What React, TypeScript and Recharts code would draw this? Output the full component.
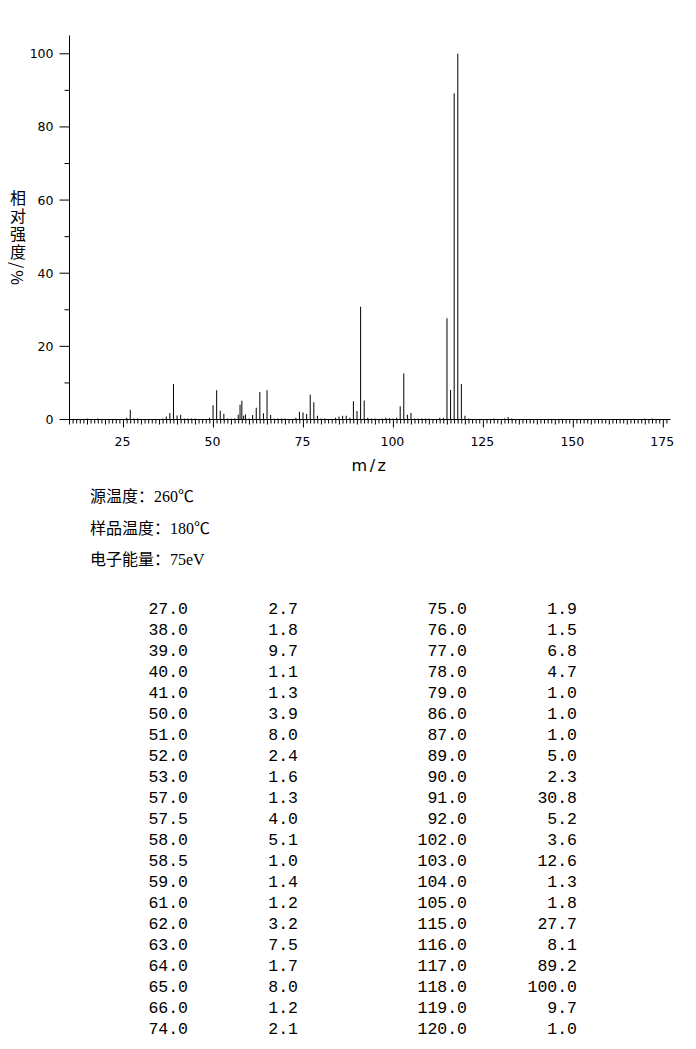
import { BarChart, Bar, XAxis, YAxis } from 'recharts';

// peaks listed in the table (m/z, relative intensity %)
const listedMz = [
  27, 38, 39, 40, 41, 50, 51, 52, 53, 57, 57.5, 58, 58.5, 59, 61, 62, 63, 64, 65, 66, 74,
  75, 76, 77, 78, 79, 86, 87, 89, 90, 91, 92, 102, 103, 104, 105, 115, 116, 117, 118, 119, 120,
];
const listedIntensity = [
  2.7, 1.8, 9.7, 1.1, 1.3, 3.9, 8.0, 2.4, 1.6, 1.3, 4.0, 5.1, 1.0, 1.4, 1.2, 3.2, 7.5, 1.7, 8.0, 1.2, 2.1,
  1.9, 1.5, 6.8, 4.7, 1.0, 1.0, 1.0, 5.0, 2.3, 30.8, 5.2, 3.6, 12.6, 1.3, 1.8, 27.7, 8.1, 89.2, 100.0, 9.7, 1.0,
];

// small peaks only visible in the spectrum
const traceMz = [
  15, 18, 26, 28, 29, 36, 37, 42, 43, 44, 45, 49, 54, 55, 56, 60, 67, 68, 69, 70, 73, 80, 81, 84,
  85, 88, 93, 94, 95, 97, 98, 99, 100, 101, 106, 107, 108, 109, 110, 113, 114, 121, 128, 131, 132,
  133, 170, 172,
];
const traceIntensity = [
  0.3, 0.3, 0.5, 0.3, 0.3, 0.3, 0.8, 0.3, 0.3, 0.3, 0.3, 0.5, 0.3, 0.3, 0.3, 0.3, 0.3, 0.3, 0.3, 0.3,
  0.5, 0.3, 0.3, 0.5, 0.8, 0.5, 0.5, 0.3, 0.3, 0.3, 0.5, 0.4, 0.3, 0.5, 0.3, 0.3, 0.3, 0.3, 0.3, 0.5,
  0.5, 0.3, 0.3, 0.3, 0.7, 0.3, 0.3, 0.3,
];

const mzTicks = Array.from({ length: 167 }, (_, i) => 10 + i);
const intensityTicks = [0, 10, 20, 30, 40, 50, 60, 70, 80, 90, 100];

const yLabel = '相对强度/%';
const conditions = ['源温度：260℃', '样品温度：180℃', '电子能量：75eV'];

const peaks = [
  ...listedMz.map((mz, i) => ({ mz, intensity: listedIntensity[i] })),
  ...traceMz.map((mz, i) => ({ mz, intensity: traceIntensity[i] })),
].sort((a, b) => a.mz - b.mz);

const tickFont = '"DejaVu Sans", sans-serif';

function MzTick({ x, y, payload }: any) {
  const v = payload.value;
  const len = v % 25 === 0 ? 8 : v % 5 === 0 ? 5 : 4;
  return (
    <g>
      <line x1={x} x2={x} y1={y} y2={y + len} stroke="#000" />
      {v % 25 === 0 && (
        <text x={x - 1} y={y + 26} textAnchor="middle" fontSize={12.5} fontFamily={tickFont} fill="#000">
          {v}
        </text>
      )}
    </g>
  );
}

function IntensityTick({ x, y, payload }: any) {
  const v = payload.value;
  const major = v % 20 === 0;
  return (
    <g>
      <line x1={x - (major ? 10 : 5)} x2={x} y1={y} y2={y} stroke="#000" />
      {major && (
        <text x={x - 16} y={y + 4.5} textAnchor="end" fontSize={12.5} fontFamily={tickFont} fill="#000">
          {v}
        </text>
      )}
    </g>
  );
}

const fmt = (n: number) => n.toFixed(1);

export default function App() {
  const half = Math.ceil(listedMz.length / 2);
  const rows = Array.from({ length: half }, (_, i) => [
    fmt(listedMz[i]),
    fmt(listedIntensity[i]),
    fmt(listedMz[i + half]),
    fmt(listedIntensity[i + half]),
  ]);
  const colWidths = [88, 110, 169, 110];

  return (
    <div style={{ position: 'absolute', left: 0, top: 0, width: 696, height: 1049, background: '#fff' }}>
      <BarChart
        width={696}
        height={480}
        data={peaks}
        margin={{ top: 35.5, right: 25.5, bottom: 30.5, left: 0 }}
        barCategoryGap={0}
      >
        <XAxis
          dataKey="mz"
          type="number"
          domain={[10, 177]}
          allowDataOverflow
          ticks={mzTicks}
          interval={0}
          tickSize={0}
          tickMargin={0}
          tickLine={false}
          tick={<MzTick />}
          height={30}
          axisLine={{ stroke: '#000' }}
        />
        <XAxis
          xAxisId="top"
          orientation="top"
          type="number"
          domain={[10, 177]}
          tick={false}
          tickLine={false}
          height={0}
          axisLine={{ stroke: '#000' }}
        />
        <YAxis
          type="number"
          domain={[0, 105]}
          allowDataOverflow
          ticks={intensityTicks}
          interval={0}
          tickSize={0}
          tickMargin={0}
          tickLine={false}
          tick={<IntensityTick />}
          width={69.5}
          axisLine={{ stroke: '#000' }}
        />
        <YAxis
          yAxisId="right"
          orientation="right"
          type="number"
          domain={[0, 105]}
          tick={false}
          tickLine={false}
          width={0}
          axisLine={{ stroke: '#000' }}
        />
        <Bar dataKey="intensity" fill="#000" barSize={1} isAnimationActive={false} />
      </BarChart>

      <div
        style={{
          position: 'absolute',
          left: 9,
          top: 190,
          writingMode: 'vertical-rl',
          fontFamily: '"Noto Sans CJK SC", sans-serif',
          fontSize: 16,
          letterSpacing: 2,
          lineHeight: '18px',
          color: '#000',
        }}
      >
        {yLabel}
      </div>
      <div
        style={{
          position: 'absolute',
          left: 344,
          top: 456,
          width: 52,
          textAlign: 'center',
          fontFamily: tickFont,
          fontSize: 16,
          letterSpacing: 2.5,
          lineHeight: '20px',
          color: '#000',
        }}
      >
        m/z
      </div>

      {conditions.map((c, i) => (
        <div
          key={c}
          style={{
            position: 'absolute',
            left: 90,
            top: 486 + i * 31.5,
            fontFamily: '"Liberation Serif", "Noto Sans CJK SC", serif',
            fontSize: 16,
            lineHeight: '22px',
            color: '#000',
            whiteSpace: 'nowrap',
          }}
        >
          {c}
        </div>
      ))}

      <div style={{ position: 'absolute', left: 100, top: 598.5 }}>
        {rows.map((r, i) => (
          <div
            key={i}
            style={{
              display: 'flex',
              height: 21,
              lineHeight: '21px',
              fontFamily: '"Liberation Mono", monospace',
              fontSize: 16.5,
              color: '#000',
            }}
          >
            {r.map((cell, j) => (
              <span key={j} style={{ width: colWidths[j], textAlign: 'right' }}>
                {cell}
              </span>
            ))}
          </div>
        ))}
      </div>
    </div>
  );
}
